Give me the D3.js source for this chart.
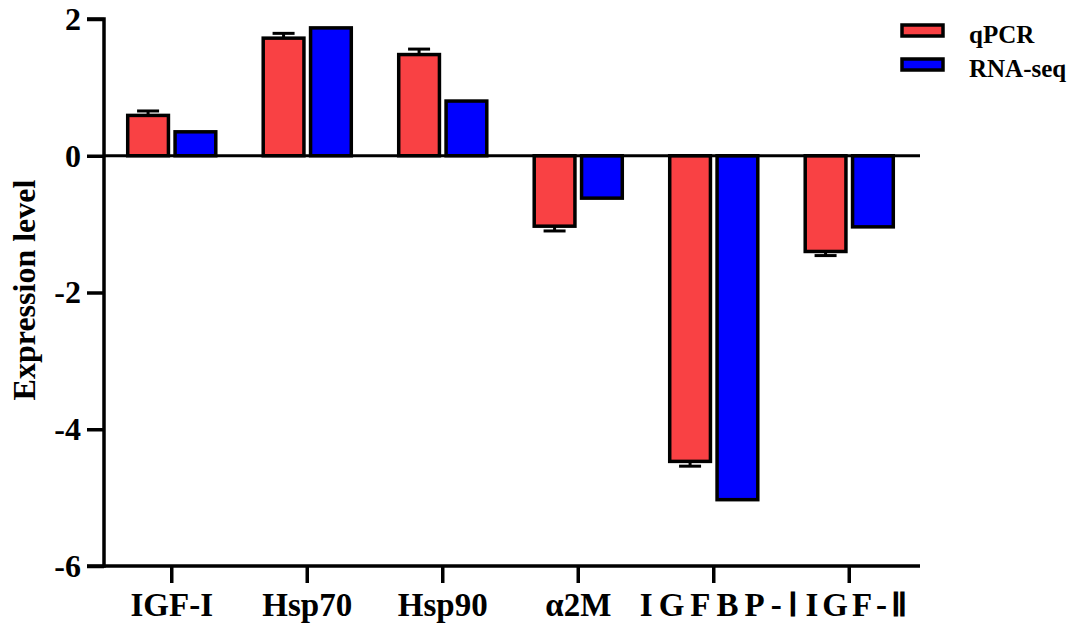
<!DOCTYPE html>
<html><head><meta charset="utf-8">
<script src="https://cdn.jsdelivr.net/npm/d3@7"></script>
<style>body{margin:0;background:#fff}svg{display:block}</style>
</head><body>
<svg id="c" width="1081" height="628"></svg>
<script>
const categories = ["IGF-I", "Hsp70", "Hsp90", "α2M", "IGFBP-Ⅰ", "IGF-Ⅱ"];
const seriesNames = ["qPCR", "RNA-seq"];
const qpcr = [0.59, 1.72, 1.48, -1.03, -4.47, -1.40];
const qpcrErr = [0.065, 0.07, 0.08, 0.07, 0.07, 0.06];
const rnaseq = [0.35, 1.87, 0.80, -0.62, -5.03, -1.04];
const yTicks = [2, 0, -2, -4, -6];
const colors = ["#F94144", "#0000FF"];

const FONT = '"Liberation Serif", "Times New Roman", serif';
const svg = d3.select("#c");
const y = d3.scaleLinear().domain([-6, 2]).range([566, 19]);
const x0 = d3.scaleBand().domain(categories).range([104, 917]).paddingInner(0.35).paddingOuter(0.175);
const x1 = d3.scaleBand().domain(seriesNames).range([0, x0.bandwidth()]).paddingInner(0.14);

const data = categories.map((c, i) => ({c, vals: [
  {s: "qPCR", v: qpcr[i], e: qpcrErr[i]},
  {s: "RNA-seq", v: rnaseq[i], e: 0}
]}));

function styleText(sel, size) {
  sel.style("font-family", FONT).style("font-weight", "bold").style("font-size", size + "px").attr("fill", "#000");
}

const g = svg.append("g");
const grp = g.selectAll("g.grp").data(data).join("g").attr("transform", d => `translate(${x0(d.c)},0)`);
grp.selectAll("g.err").data(d => d.vals.filter(v => v.e > 0)).join("g").each(function(d) {
  const cx = x1(d.s) + x1.bandwidth() / 2;
  const tip = d.v + Math.sign(d.v) * d.e;
  const sel = d3.select(this);
  sel.append("line").attr("x1", cx).attr("x2", cx).attr("y1", y(d.v)).attr("y2", y(tip)).attr("stroke", "#000").attr("stroke-width", 3);
  sel.append("line").attr("x1", cx - 11).attr("x2", cx + 11).attr("y1", y(tip)).attr("y2", y(tip)).attr("stroke", "#000").attr("stroke-width", 3);
});
grp.selectAll("rect").data(d => d.vals).join("rect")
  .attr("x", d => x1(d.s))
  .attr("width", x1.bandwidth())
  .attr("y", d => y(Math.max(0, d.v)))
  .attr("height", d => Math.abs(y(d.v) - y(0)))
  .attr("fill", (d, i) => colors[i])
  .attr("stroke", "#000").attr("stroke-width", 3.5);

svg.append("line").attr("x1", 104).attr("x2", 920).attr("y1", y(0)).attr("y2", y(0)).attr("stroke", "#000").attr("stroke-width", 3);

const yAxis = svg.append("g").attr("transform", "translate(104,0)")
  .call(d3.axisLeft(y).tickValues(yTicks).tickFormat(d => String(d)).tickSize(17).tickPadding(6));
yAxis.select(".domain").attr("stroke-width", 3.5).attr("d", `M-17,${y(2)}H0V${y(-6)}H-17`);
yAxis.selectAll(".tick line").attr("stroke-width", 3.5);
yAxis.selectAll(".tick text").call(styleText, 32);

const xAxis = svg.append("g").attr("transform", `translate(0,${y(-6)})`)
  .call(d3.axisBottom(x0).tickSize(17).tickPadding(10));
xAxis.select(".domain").attr("stroke-width", 3.5).attr("d", `M104,0H920`);
xAxis.selectAll(".tick line").attr("stroke-width", 3.5);
xAxis.selectAll(".tick text").call(styleText, 33)
  .attr("letter-spacing", d => d === "IGFBP-Ⅰ" ? "6px" : d === "IGF-Ⅱ" ? "4px" : null)
  .attr("dx", d => d === "IGFBP-Ⅰ" ? 8 : d === "IGF-Ⅱ" ? 9 : 0);

svg.append("text").attr("transform", "translate(35,290) rotate(-90)").attr("text-anchor", "middle")
  .call(styleText, 32).text("Expression level");

const leg = svg.append("g").selectAll("g").data(seriesNames).join("g")
  .attr("transform", (d, i) => `translate(902,${25 + i * 34})`);
leg.append("rect").attr("width", 41).attr("height", 11).attr("fill", (d, i) => colors[i]).attr("stroke", "#000").attr("stroke-width", 3.5);
leg.append("text").attr("x", 67).attr("y", 18).call(styleText, 25).text(d => d);
</script>
</body></html>
